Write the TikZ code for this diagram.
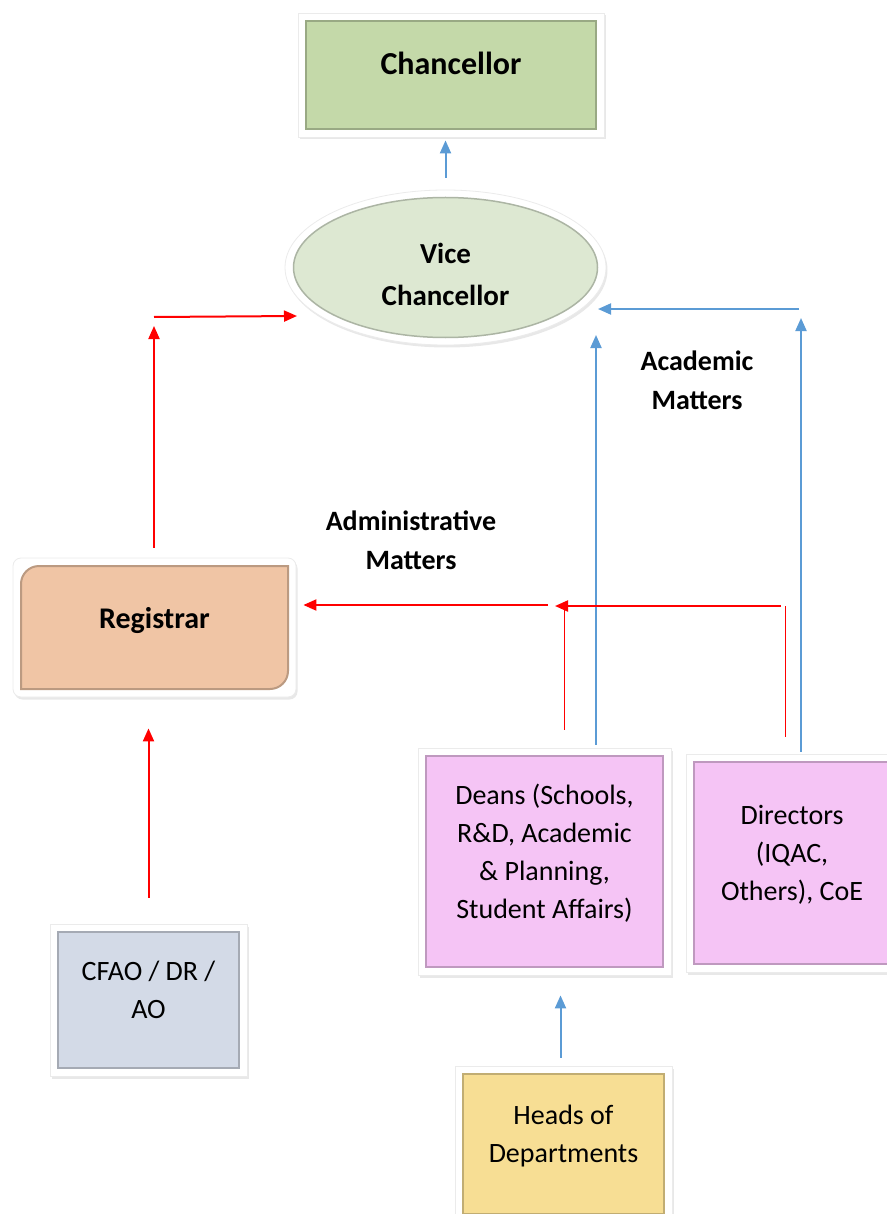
\documentclass[tikz,border=0pt]{standalone}
\usepackage{fontspec}
\setmainfont{Carlito}
\usepackage{tikz}
\usetikzlibrary{arrows.meta,calc,positioning,shapes.geometric,shadows}
\definecolor{ChancFill}{HTML}{C4D9A9}
\definecolor{ViceFill}{HTML}{DDE8D2}
\definecolor{RegFill}{HTML}{F0C5A5}
\definecolor{DeanFill}{HTML}{F5C4F5}
\definecolor{CfaoFill}{HTML}{D3DAE7}
\definecolor{HodFill}{HTML}{F7DE94}
\definecolor{ArrowRed}{HTML}{FF0000}
\definecolor{ArrowBlue}{HTML}{5B9BD5}

\tikzset{
    orgbox/.style={
        rectangle,
        fill=white,
        draw=black!8,
        line width=0.8pt,
        drop shadow={opacity=0.18, shadow xshift=1.5pt, shadow yshift=-2.5pt},
        inner sep=0pt,
        align=center,
        text depth=21pt,
        font=\fontsize{28}{38}\selectfont,
        path picture={
            \draw[draw=#1!78!black, fill=#1, line width=2pt]
                ([shift={(8pt,-8pt)}]path picture bounding box.north west)
                rectangle ([shift={(-8pt,8pt)}]path picture bounding box.south east);
        }
    },
    regbox/.style={
        rectangle,
        rounded corners=8pt,
        fill=white,
        draw=black!8,
        line width=0.8pt,
        drop shadow={opacity=0.18, shadow xshift=1.5pt, shadow yshift=-2.5pt},
        inner sep=0pt,
        align=center,
        text depth=20pt,
        font=\fontsize{30}{38}\selectfont\bfseries,
        path picture={
            \draw[sharp corners, draw=RegFill!78!black, fill=RegFill, line width=2pt]
                ([shift={(8pt,-26pt)}]path picture bounding box.north west)
                arc[start angle=180, end angle=90, radius=18pt]
                -- ([shift={(-8pt,-8pt)}]path picture bounding box.north east)
                -- ([shift={(-8pt,26pt)}]path picture bounding box.south east)
                arc[start angle=0, end angle=-90, radius=18pt]
                -- ([shift={(8pt,8pt)}]path picture bounding box.south west)
                -- cycle;
        }
    },
    vcoval/.style={
        ellipse,
        fill=white,
        draw=black!8,
        line width=0.8pt,
        drop shadow={opacity=0.18, shadow xshift=1.5pt, shadow yshift=-2.5pt},
        inner sep=0pt,
        minimum width=321pt,
        minimum height=155pt,
        align=center,
        text height=76pt,
        font=\fontsize{29}{42}\selectfont\bfseries,
        path picture={
            \draw[draw=ViceFill!78!black, fill=ViceFill, line width=1.5pt]
                (path picture bounding box.center) ellipse [x radius=152pt, y radius=70pt];
        }
    },
    mattertext/.style={align=center, font=\fontsize{28}{39}\selectfont\bfseries},
    redarrow/.style={draw=ArrowRed, line width=2pt, -{Triangle[length=13pt,width=11pt]}},
    bluearrow/.style={draw=ArrowBlue, line width=2pt, -{Triangle[length=13pt,width=11pt]}},
    redtick/.style={draw=ArrowRed, line width=1pt}
}

\begin{document}
\begin{tikzpicture}[x=1pt, y=-1pt]
    \useasboundingbox (0,0) rectangle (886,1214);

    \node[orgbox=ChancFill, minimum width=306pt, minimum height=124pt, text depth=23pt,
        font=\fontsize{32}{38}\selectfont\bfseries] (chanc) at (451,75) {Chancellor};
    \node[vcoval] (vc) at (445.5,267.5) {Vice\\Chancellor};
    \node[regbox, minimum width=283pt, minimum height=139pt] (reg) at (154.5,627.5) {Registrar};
    \node[orgbox=DeanFill, minimum width=253pt, minimum height=227pt] (deans) at (544.5,861.5)
        {Deans (Schools,\\R\&D, Academic\\\& Planning,\\Student Affairs)};
    \node[orgbox=DeanFill, minimum width=212pt, minimum height=218pt] (dirs) at (792,863)
        {Directors\\(IQAC,\\Others), CoE};
    \node[orgbox=CfaoFill, minimum width=197pt, minimum height=152pt] (cfao) at (148.5,1000)
        {CFAO / DR /\\AO};
    \node[orgbox=HodFill, minimum width=217pt, minimum height=156pt] (heads) at (563.5,1144)
        {Heads of\\Departments};

    \node[mattertext] (acadlbl) at (697,380) {Academic\\Matters};
    \node[mattertext] (admlbl) at (411,540) {Administrative\\Matters};

    \coordinate (admbend) at (154,317);
    \coordinate (vcleftend) at (297,316);
    \coordinate (acadtipA) at (596,335);
    \coordinate (acadtipB) at (801,318);
    \coordinate (acadbend) at (799,309);
    \coordinate (vcrightend) at (598,309);
    \coordinate (admleftstart) at (548,605);
    \coordinate (admrightstart) at (781,606);
    \coordinate (admrightend) at (555,606);
    \coordinate (deantick) at (564,608);
    \coordinate (dirtick) at (785,606);

    \draw[bluearrow, shorten <=12pt, shorten >=3pt] (vc.north) -- (vc.north |- chanc.south);
    \draw[redarrow, shorten <=10pt, shorten >=9pt] (reg.north -| admbend) -- (admbend);
    \draw[redarrow] (admbend) -- (vcleftend);
    \draw[bluearrow, shorten <=3pt] (deans.north -| acadtipA) -- (acadtipA);
    \draw[bluearrow, shorten <=2pt] (dirs.north -| acadtipB) -- (acadtipB);
    \draw[bluearrow] (acadbend) -- (vcrightend);
    \draw[redarrow, shorten >=7pt] (admleftstart) -- (admleftstart -| reg.east);
    \draw[redarrow] (admrightstart) -- (admrightend);
    \draw[redtick, shorten <=18pt] (deans.north -| deantick) -- (deantick);
    \draw[redtick, shorten <=17pt] (dirs.north -| dirtick) -- (dirtick);
    \draw[redarrow, shorten <=26pt, shorten >=31pt] (cfao.north) -- (cfao.north |- reg.south);
    \draw[bluearrow, shorten <=8pt, shorten >=20pt] ([xshift=-3pt]heads.north) -- ([xshift=-3pt]heads.north |- deans.south);
\end{tikzpicture}
\end{document}
